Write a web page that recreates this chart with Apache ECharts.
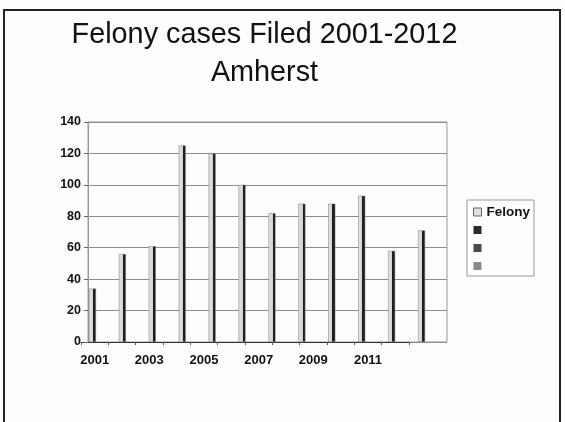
<!DOCTYPE html>
<html>
<head>
<meta charset="utf-8">
<script src="https://cdn.jsdelivr.net/npm/echarts@6/dist/echarts.min.js"></script>
<style>
  html, body { margin: 0; padding: 0; background: #fbfdfe; }
  #chart { width: 565px; height: 422px; }
</style>
</head>
<body>
<div id="chart"></div>
<script>
// ---- data ----
const titleLine1 = 'Felony cases Filed 2001-2012';
const titleLine2 = 'Amherst';
const years = ['2001','2002','2003','2004','2005','2006','2007','2008','2009','2010','2011','2012'];
const felony = [34, 56, 61, 125, 120, 100, 82, 88, 88, 93, 58, 71];
const emptySeriesValues = [0, 0, 0, 0, 0, 0, 0, 0, 0, 0, 0, 0];
const seriesNames = ['Felony', 'Series 2', 'Series 3', 'Series 4'];
const yMin = 0, yMax = 140, yStep = 20;

const chart = echarts.init(document.getElementById('chart'), null, { renderer: 'canvas' });
const FONT = '"Liberation Sans", Arial, sans-serif';

const barFill = new echarts.graphic.LinearGradient(0, 0, 1, 0, [
  { offset: 0, color: '#e6e6e6' },
  { offset: 0.6, color: '#d2d2d2' },
  { offset: 0.6, color: '#1e1e1e' },
  { offset: 1, color: '#1e1e1e' }
]);
const otherColors = ['#2a2a2a', '#4a4a4a', '#8a8a8a'];

const series = [{
  name: seriesNames[0],
  type: 'bar',
  xAxisIndex: 0, yAxisIndex: 0,
  data: felony,
  barWidth: 7,
  barGap: '0%',
  itemStyle: { color: barFill, borderColor: '#777', borderWidth: 0.5 }
}];
for (let i = 1; i < seriesNames.length; i++) {
  series.push({
    name: seriesNames[i],
    type: 'bar',
    xAxisIndex: 0, yAxisIndex: 0,
    data: emptySeriesValues,
    barWidth: 7,
    barGap: '0%',
    silent: true,
    itemStyle: { color: otherColors[i - 1], borderWidth: 0 }
  });
}

chart.setOption({
  backgroundColor: '#fbfdfe',
  animation: false,
  graphic: [
    { type: 'rect', shape: { x: 4, y: 10, width: 556, height: 430 },
      style: { fill: 'none', stroke: '#222', lineWidth: 2 }, silent: true },
    { type: 'text', x: 264.5, y: 35,
      style: { text: titleLine1, font: '28.8px ' + FONT, fill: '#111', textAlign: 'center', textVerticalAlign: 'middle' } },
    { type: 'text', x: 264.5, y: 73,
      style: { text: titleLine2, font: '28.8px ' + FONT, fill: '#111', textAlign: 'center', textVerticalAlign: 'middle' } }
  ],
  legend: {
    orient: 'vertical',
    left: 467, top: 200,
    padding: [5, 4, 3, 6],
    itemWidth: 8, itemHeight: 8, itemGap: 4,
    borderColor: '#999', borderWidth: 1,
    icon: 'rect',
    selectedMode: false,
    formatter: function (name) { return name === seriesNames[0] ? name : ' '; },
    textStyle: { fontFamily: FONT, fontSize: 13.5, fontWeight: 'bold', color: '#111' },
    data: [
      { name: seriesNames[0], itemStyle: { color: '#e0e0e0', borderColor: '#666', borderWidth: 1 } },
      { name: seriesNames[1], itemStyle: { color: otherColors[0] } },
      { name: seriesNames[2], itemStyle: { color: otherColors[1] } },
      { name: seriesNames[3], itemStyle: { color: otherColors[2] } }
    ]
  },
  grid: [
    { left: 88, top: 122, width: 359, height: 220, show: true, borderColor: '#999', borderWidth: 1, backgroundColor: 'transparent' },
    { left: 81, top: 341, width: 328, height: 1 }
  ],
  xAxis: [
    { type: 'category', gridIndex: 0, data: years,
      axisLine: { show: false }, axisTick: { show: false }, axisLabel: { show: false } },
    { type: 'category', gridIndex: 1, data: years, position: 'bottom',
      axisLine: { show: true, lineStyle: { color: '#333', width: 1 } },
      axisTick: { show: true, interval: 0, length: 3, lineStyle: { color: '#555' } },
      axisLabel: { interval: 1, margin: 12, fontFamily: FONT, fontSize: 13, fontWeight: 'bold', color: '#111' } }
  ],
  yAxis: [
    { type: 'value', gridIndex: 0, min: yMin, max: yMax, interval: yStep,
      axisLine: { show: true, lineStyle: { color: '#999' } },
      axisTick: { show: true, length: 4, lineStyle: { color: '#666' } },
      axisLabel: { margin: 7, fontFamily: FONT, fontSize: 12.5, fontWeight: 'bold', color: '#111' },
      splitLine: { show: true, lineStyle: { color: '#8c8c8c', width: 1 } } },
    { type: 'value', gridIndex: 1, min: 0, max: 1, show: false }
  ],
  series: series
});
</script>
</body>
</html>
